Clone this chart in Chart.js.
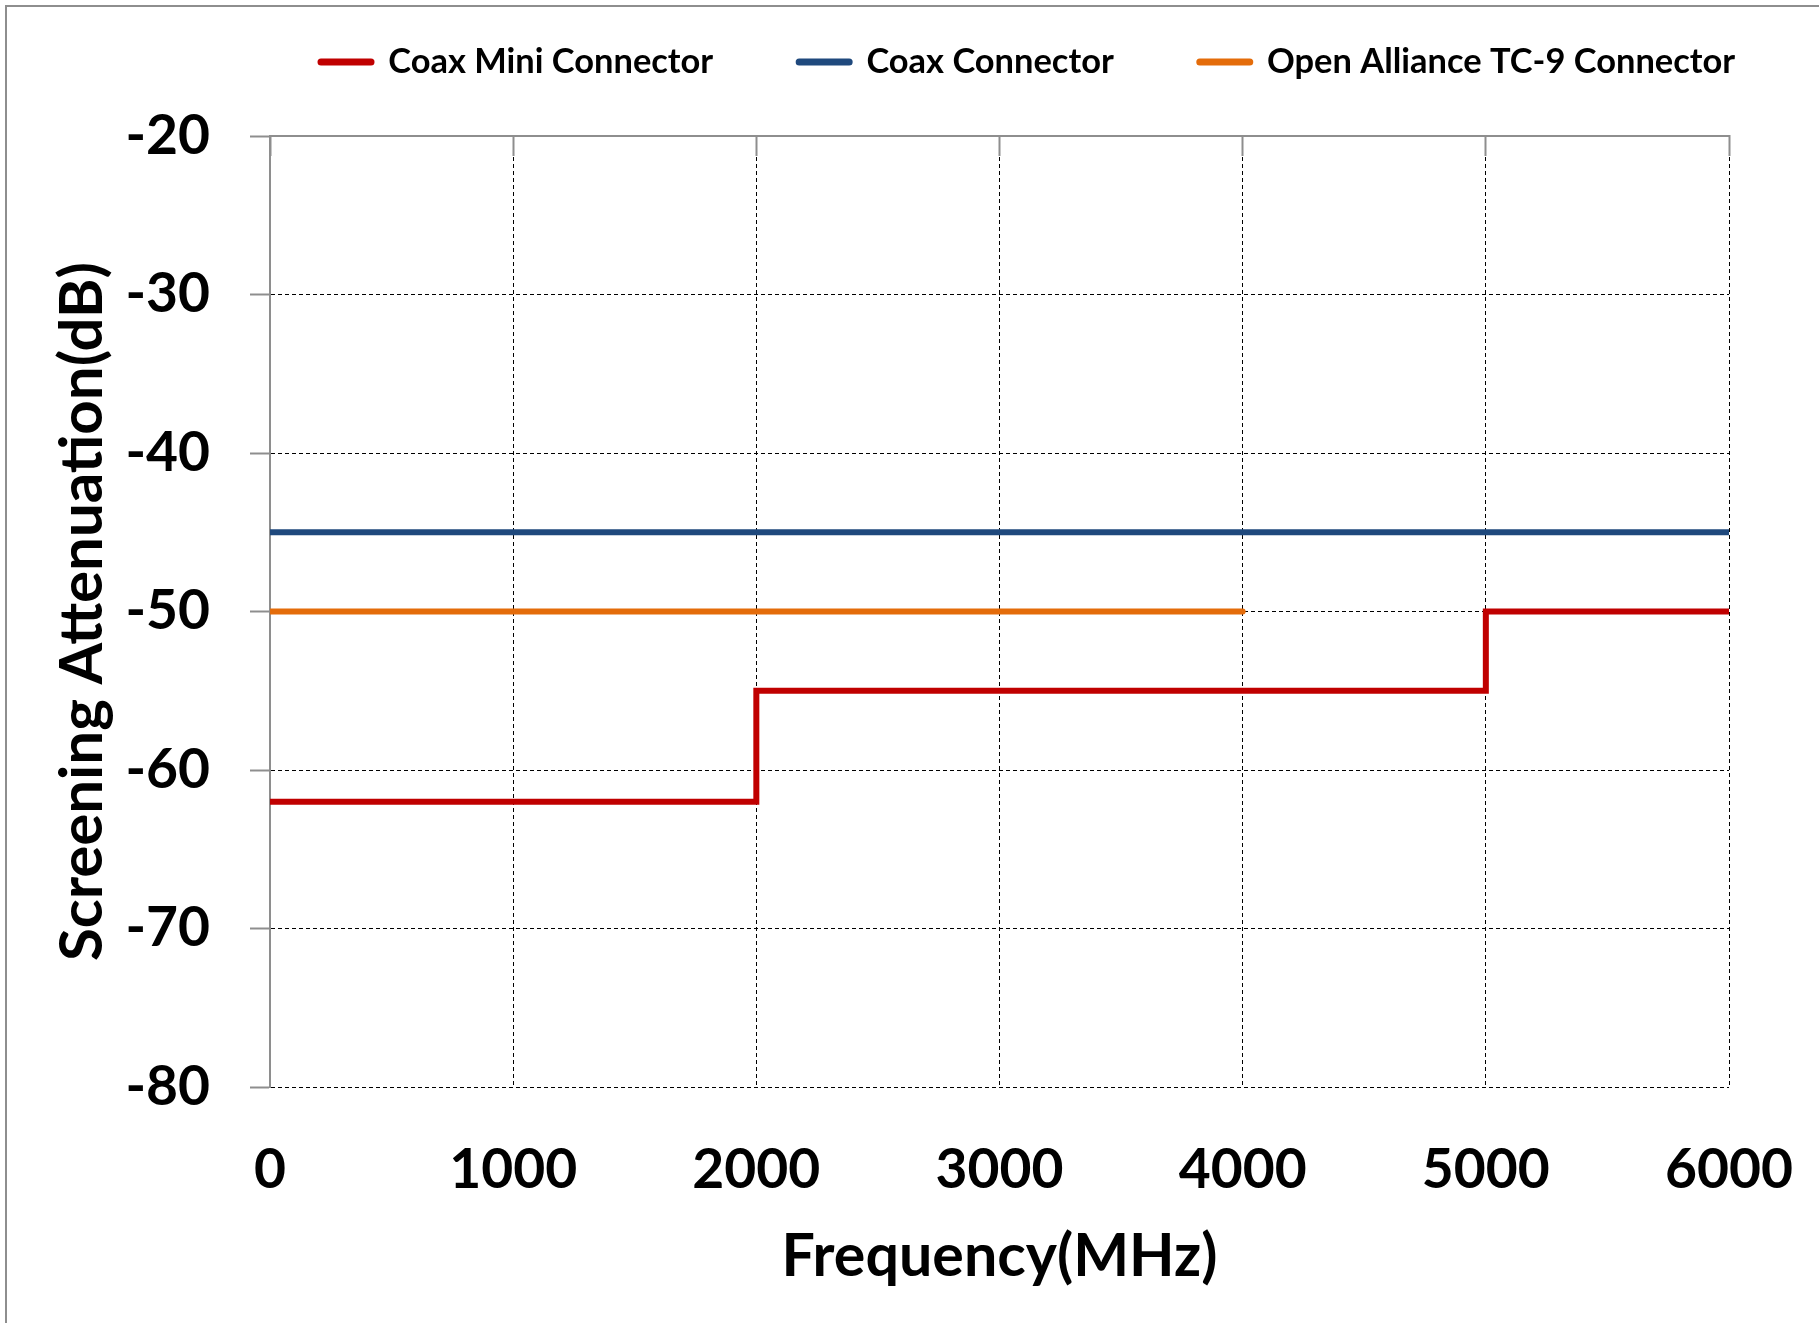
<!DOCTYPE html>
<html>
<head>
<meta charset="utf-8">
<script src="https://cdn.jsdelivr.net/npm/chart.js@4/dist/chart.umd.min.js"></script>
<style>
  html, body { margin: 0; padding: 0; background: #fff; overflow: hidden; }
  #frame { position: absolute; left: 5px; top: 5px; width: 2000px; height: 2000px;
           border: 2px solid #8e8e8e; box-sizing: border-box; }
  #c { position: absolute; left: 0; top: 0; }
</style>
</head>
<body>
<div id="frame"></div>
<canvas id="c" width="1819" height="1323"></canvas>
<script>
// ---------- data ----------
const seriesNames = ['Coax Mini Connector', 'Coax Connector', 'Open Alliance TC-9 Connector'];
const miniX  = [0, 2000, 2000, 5000, 5000, 6000];
const miniY  = [-62, -62, -55, -55, -50, -50];
const coaxX  = [0, 6000];
const coaxY  = [-45, -45];
const tc9X   = [0, 4000];
const tc9Y   = [-50, -50];
const xTickValues = [0, 1000, 2000, 3000, 4000, 5000, 6000];
const yTickValues = [-80, -70, -60, -50, -40, -30, -20];
const xTitle = 'Frequency(MHz)';
const yTitle = 'Screening Attenuation(dB)';

// ---------- style ----------
const FONT = 'Lato';
const COLORS = ['#C00000', '#1F497D', '#E46C0A'];
const AXIS_GRAY = '#8e8e8e';
const GRID_DASH = [4, 3];

function fitSize(text, target) {
  const ctx = document.createElement('canvas').getContext('2d');
  ctx.font = 'bold 100px ' + FONT;
  return 100 * target / ctx.measureText(text).width;
}
function pts(xs, ys) { return xs.map((x, i) => ({ x: x, y: ys[i] })); }

function build() {
  const tickFs  = fitSize('6000', 128);
  const xTitleFs = fitSize(xTitle, 436);
  const yTitleFs = fitSize(yTitle, 699);
  const legendFs = fitSize(seriesNames[0], 325);

  const LEGEND_PAD = 86, LEGEND_X = 321, LEGEND_Y = 62, LEGEND_BOX_H = 136;

  const legendPlacement = {
    id: 'legendPlacement',
    beforeInit(chart) {
      const lg = chart.legend;
      const fit = lg.fit;
      lg.fit = function () { fit.call(this); this.height = LEGEND_BOX_H; };
      const draw = lg.draw;
      lg.draw = function () {
        const cur = (this.left + LEGEND_PAD + this.right - this.lineWidths[0]) / 2;
        const dx = LEGEND_X - cur;
        const dy = LEGEND_Y - (this.top + LEGEND_PAD + legendFs / 2);
        this.left += dx; this.right += dx; this.top += dy;
        draw.call(this);
        this.left -= dx; this.right -= dx; this.top -= dy;
      };
    }
  };

  const mk = (label, data, color) => ({
    label: label, data: data, borderColor: color, backgroundColor: color,
    borderWidth: 6, pointRadius: 0, pointHoverRadius: 0, tension: 0, fill: false,
    pointBorderWidth: 6, pointBorderColor: color, pointBackgroundColor: color,
    borderCapStyle: 'round', borderJoinStyle: 'miter', pointStyle: 'line'
  });

  const defaultLabels = Chart.defaults.plugins.legend.labels.generateLabels;

  new Chart(document.getElementById('c'), {
    type: 'line',
    data: {
      datasets: [
        mk(seriesNames[0], pts(miniX, miniY), COLORS[0]),
        mk(seriesNames[1], pts(coaxX, coaxY), COLORS[1]),
        mk(seriesNames[2], pts(tc9X, tc9Y), COLORS[2])
      ]
    },
    plugins: [legendPlacement],
    options: {
      responsive: false,
      animation: false,
      devicePixelRatio: 1,
      layout: { padding: { left: 0, right: 90, top: 0, bottom: 0 } },
      plugins: {
        tooltip: { enabled: false },
        legend: {
          position: 'top',
          labels: {
            usePointStyle: true, pointStyle: 'line', pointStyleWidth: 50,
            padding: LEGEND_PAD, color: '#000',
            font: { family: FONT, weight: 'bold', size: legendFs },
            generateLabels: chart => defaultLabels(chart).map(l => Object.assign(l, {
              lineWidth: 7, lineCap: 'round', strokeStyle: COLORS[l.datasetIndex]
            }))
          }
        }
      },
      scales: {
        x: {
          type: 'linear', position: 'bottom', min: 0, max: 6000,
          afterBuildTicks: s => { s.ticks = xTickValues.map(v => ({ value: v })); },
          afterFit: s => { s.height = 236; },
          ticks: {
            color: '#000', padding: 24, maxRotation: 0, autoSkip: false,
            font: { family: FONT, weight: 'bold', size: tickFs, lineHeight: 1 },
            callback: v => String(v)
          },
          grid: { z: -1, color: '#000', lineWidth: 1, drawTicks: true, tickLength: 32, tickWidth: 0 },
          border: { display: false, dash: GRID_DASH },
          title: {
            display: true, text: xTitle, color: '#000',
            font: { family: FONT, weight: 'bold', size: xTitleFs, lineHeight: 1 },
            padding: { top: 0, bottom: 66 - xTitleFs / 2 }
          }
        },
        x2: {
          type: 'linear', position: 'top', min: 0, max: 6000,
          afterBuildTicks: s => { s.ticks = xTickValues.map(v => ({ value: v })); },
          afterFit: s => { s.height = 0; },
          ticks: { display: false },
          grid: { z: -1, drawOnChartArea: false, drawTicks: true, tickLength: -20,
                  tickColor: AXIS_GRAY, tickWidth: 2 },
          border: { display: true, color: AXIS_GRAY, width: 2 }
        },
        y: {
          type: 'linear', position: 'left', min: -80, max: -20,
          afterBuildTicks: s => { s.ticks = yTickValues.map(v => ({ value: v })); },
          afterFit: s => { s.width = 270; },
          ticks: {
            color: '#000', padding: 40, autoSkip: false,
            font: { family: FONT, weight: 'bold', size: tickFs, lineHeight: 1 },
            callback: v => String(v)
          },
          grid: { z: -1, color: '#000', lineWidth: 1,
                  drawTicks: true, tickLength: 20, tickColor: AXIS_GRAY, tickWidth: 2,
                  tickBorderDash: [] },
          border: { display: true, color: AXIS_GRAY, width: 2, dash: GRID_DASH },
          title: {
            display: true, text: yTitle, color: '#000',
            font: { family: FONT, weight: 'bold', size: yTitleFs, lineHeight: 1 },
            padding: { top: 83 - yTitleFs / 2, bottom: 0 }
          }
        }
      }
    }
  });
}

if (document.fonts && document.fonts.load) {
  document.fonts.load('bold 100px ' + FONT).then(build, build);
} else {
  build();
}
</script>
</body>
</html>
